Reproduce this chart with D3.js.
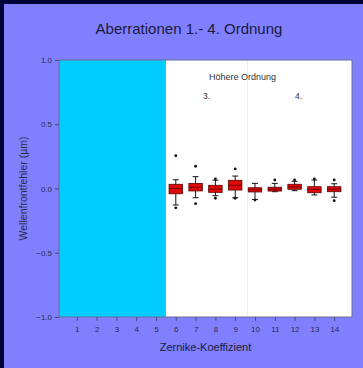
<!DOCTYPE html>
<html>
<head>
<meta charset="utf-8">
<script src="https://cdn.jsdelivr.net/npm/d3@7"></script>
<style>
  html, body { margin: 0; padding: 0; background: #000038; }
  svg { display: block; }
  text { font-family: "Liberation Sans", Arial, sans-serif; }
</style>
</head>
<body>
<svg id="chart" width="363" height="368"></svg>
<script>
// Zernike coefficients with box statistics (µm)
const coefficients = [6, 7, 8, 9, 10, 11, 12, 13, 14];
const q1Values      = [-0.041, -0.019, -0.030, -0.012, -0.027, -0.020, -0.006, -0.033, -0.025];
const medianValues  = [ 0.000,  0.010, -0.005,  0.025, -0.010, -0.005,  0.012, -0.008, -0.005];
const q3Values      = [ 0.033,  0.040,  0.025,  0.064,  0.006,  0.010,  0.033,  0.014,  0.014];
const whiskerLow    = [-0.128, -0.072, -0.056, -0.072, -0.085, -0.025, -0.017, -0.050, -0.068];
const whiskerHigh   = [ 0.068,  0.092,  0.065,  0.097,  0.040,  0.040,  0.056,  0.066,  0.037];
const outlierHigh   = [ 0.255,  0.173,  0.075,  0.152,  null,   0.066,  0.066,  0.075,  0.066];
const outlierLow    = [-0.150, -0.118, -0.076, -0.076, -0.090,  null,   null,   null,  -0.095];

const xTicks = d3.range(1, 15);
const yTicks = [-1.0, -0.5, 0.0, 0.5, 1.0];
const lowOrderRange = [0.1, 5.5];   // coefficients 1-5 shaded
const orderDivider = 9.62;

const svg = d3.select("#chart");
const W = 363, H = 368;

// panel background
svg.append("rect").attr("x", 4).attr("y", 4).attr("width", W - 4).attr("height", H - 4).attr("fill", "#8080ff");

const margin = { left: 59, right: 11, top: 60, bottom: 51 };
const x = d3.scaleLinear().domain([0.1, 14.9]).range([margin.left, W - margin.right]);
const y = d3.scaleLinear().domain([-1, 1]).range([H - margin.bottom, margin.top]);

// plot area
svg.append("rect")
  .attr("x", x(0.1)).attr("y", y(1))
  .attr("width", x(14.9) - x(0.1)).attr("height", y(-1) - y(1))
  .attr("fill", "#ffffff");

svg.append("rect")
  .attr("x", x(lowOrderRange[0])).attr("y", y(1))
  .attr("width", x(lowOrderRange[1]) - x(lowOrderRange[0])).attr("height", y(-1) - y(1))
  .attr("fill", "#00ccff");

// faint divider between 3rd and 4th order
svg.append("line")
  .attr("x1", x(orderDivider)).attr("x2", x(orderDivider))
  .attr("y1", y(1)).attr("y2", y(-1))
  .attr("stroke", "#ececf2").attr("stroke-width", 1);

// frame
svg.append("rect")
  .attr("x", x(0.1)).attr("y", y(1))
  .attr("width", x(14.9) - x(0.1)).attr("height", y(-1) - y(1))
  .attr("fill", "none").attr("stroke", "#6a6a9a").attr("stroke-width", 1);

// axes
const xAxis = svg.append("g")
  .attr("transform", `translate(0,${y(-1)})`)
  .call(d3.axisBottom(x).tickValues(xTicks).tickSize(4).tickPadding(5).tickFormat(d3.format("d")));
const yAxis = svg.append("g")
  .attr("transform", `translate(${x(0.1)},0)`)
  .call(d3.axisLeft(y).tickValues(yTicks).tickSize(4).tickPadding(3).tickFormat(d3.format(".1f")));
[xAxis, yAxis].forEach(g => {
  g.select(".domain").remove();
  g.selectAll(".tick line").attr("stroke", "#4a4a70");
  g.selectAll(".tick text").attr("fill", "#2a2a50").attr("font-size", 8)
    .attr("font-family", "Liberation Sans, Arial, sans-serif");
});

// box plots
const boxW = 0.68, capW = 0.3;
const rows = coefficients.map((c, i) => ({
  c, q1: q1Values[i], med: medianValues[i], q3: q3Values[i],
  lo: whiskerLow[i], hi: whiskerHigh[i], oh: outlierHigh[i], ol: outlierLow[i]
}));
const g = svg.append("g");
const box = g.selectAll("g.box").data(rows).join("g").attr("class", "box");
box.append("line")
  .attr("x1", d => x(d.c)).attr("x2", d => x(d.c))
  .attr("y1", d => y(d.hi)).attr("y2", d => y(d.lo))
  .attr("stroke", "#111").attr("stroke-width", 1);
box.selectAll("line.cap").data(d => [d.hi, d.lo].map(v => ({ c: d.c, v }))).join("line")
  .attr("class", "cap")
  .attr("x1", d => x(d.c - capW / 2)).attr("x2", d => x(d.c + capW / 2))
  .attr("y1", d => y(d.v)).attr("y2", d => y(d.v))
  .attr("stroke", "#111").attr("stroke-width", 1);
box.append("rect")
  .attr("x", d => x(d.c - boxW / 2)).attr("width", d => x(d.c + boxW / 2) - x(d.c - boxW / 2))
  .attr("y", d => y(d.q3)).attr("height", d => y(d.q1) - y(d.q3))
  .attr("fill", "#dd0a0a").attr("stroke", "#5a0000").attr("stroke-width", 0.8);
box.append("line")
  .attr("x1", d => x(d.c - boxW / 2)).attr("x2", d => x(d.c + boxW / 2))
  .attr("y1", d => y(d.med)).attr("y2", d => y(d.med))
  .attr("stroke", "#600000").attr("stroke-width", 0.8);
box.selectAll("circle").data(d => [d.oh, d.ol].filter(v => v !== null).map(v => ({ c: d.c, v }))).join("circle")
  .attr("cx", d => x(d.c)).attr("cy", d => y(d.v)).attr("r", 1.4).attr("fill", "#111");

// annotations
svg.append("text").attr("x", 242.5).attr("y", 80).attr("text-anchor", "middle")
  .attr("font-size", 9).attr("fill", "#333").text("Höhere Ordnung");
svg.append("text").attr("x", x(7.55)).attr("y", 99).attr("text-anchor", "middle")
  .attr("font-size", 8.5).attr("fill", "#333").text("3.");
svg.append("text").attr("x", x(12.2)).attr("y", 99).attr("text-anchor", "middle")
  .attr("font-size", 8.5).attr("fill", "#333").text("4.");

// titles
svg.append("text").attr("x", 189).attr("y", 33.5).attr("text-anchor", "middle")
  .attr("font-size", 15).attr("fill", "#1a1a40").text("Aberrationen 1.- 4. Ordnung");
svg.append("text").attr("x", (x(0.1) + x(14.9)) / 2).attr("y", 351).attr("text-anchor", "middle")
  .attr("font-size", 11).attr("fill", "#1a1a40").text("Zernike-Koeffizient");
svg.append("text").attr("transform", `translate(27,${y(0)}) rotate(-90)`).attr("text-anchor", "middle")
  .attr("font-size", 10.5).attr("fill", "#2a2a50").text("Wellenfrontfehler (µm)");
</script>
</body>
</html>
